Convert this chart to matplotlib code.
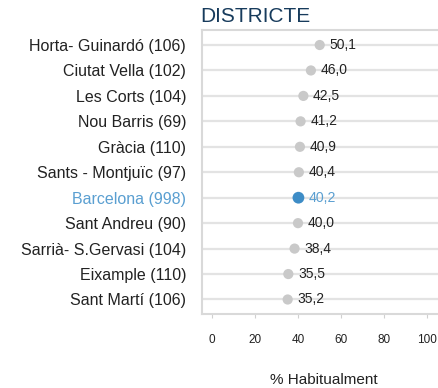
import matplotlib
matplotlib.use("Agg")
import matplotlib.pyplot as plt

districtes = ["Horta- Guinardó (106)", "Ciutat Vella (102)", "Les Corts (104)",
              "Nou Barris (69)", "Gràcia (110)", "Sants - Montjuïc (97)",
              "Barcelona (998)", "Sant Andreu (90)", "Sarrià- S.Gervasi (104)",
              "Eixample (110)", "Sant Martí (106)"]
habitualment = [50.1, 46.0, 42.5, 41.2, 40.9, 40.4, 40.2, 40.0, 38.4, 35.5, 35.2]
destacat = "Barcelona (998)"
x_ticks = [0, 20, 40, 60, 80, 100]

plt.rcParams['font.family'] = ['Liberation Sans', 'DejaVu Sans']

W, H = 438, 388
fig = plt.figure(figsize=(W / 100, H / 100), dpi=100)
ax_left, ax_right, ax_top, ax_bottom = 202, 445, 30, 314
ax = fig.add_axes([ax_left / W, 1 - ax_bottom / H, (ax_right - ax_left) / W,
                   (ax_bottom - ax_top) / H])

n = len(districtes)
ys = list(range(n))
grey_dot = "#c9c9c9"
blue_dot = "#3d8cc6"
blue_txt = "#5a9fd1"

for y, name, v in zip(ys, districtes, habitualment):
    ax.axhline(y, color="#e3e3e3", lw=1.6, zorder=1)
    is_bcn = name == destacat
    ax.scatter([v], [y], s=72 if is_bcn else 54,
               color=blue_dot if is_bcn else grey_dot,
               edgecolors="none", zorder=3)
    ax.annotate(f"{v:.1f}".replace(".", ","), (v, y), xytext=(7, 0),
                textcoords="offset points", va="center", ha="left",
                fontsize=10.2 if is_bcn else 10,
                color=blue_txt if is_bcn else "#222222", zorder=4)

ax.set_ylim(n - 1 + 0.57, -0.59)
ax.set_xlim(-4.65, (ax_right - 212) / 2.15)
ax.set_yticks(ys)
ax.set_yticklabels(districtes, fontsize=11.5)
for lbl in ax.get_yticklabels():
    lbl.set_color(blue_txt if lbl.get_text() == destacat else "#222222")
ax.tick_params(axis="y", length=0, pad=11.5)

ax.set_xticks(x_ticks)
ax.set_xticklabels([str(t) for t in x_ticks], fontsize=8.5)
ax.tick_params(axis="x", length=3, color="#d0d0d0", pad=11.5, labelcolor="#222222")
ax.set_xlabel("% Habitualment", fontsize=11, labelpad=19, color="#222222")

for side in ["left", "top", "bottom"]:
    ax.spines[side].set_color("#d9d9d9")
    ax.spines[side].set_linewidth(1.5)
ax.spines["right"].set_visible(False)

fig.text(200 / W, 1 - 17 / H, "DISTRICTE", fontsize=15, color="#173b5c",
         ha="left", va="center")

fig.savefig("out.png", dpi=100)
